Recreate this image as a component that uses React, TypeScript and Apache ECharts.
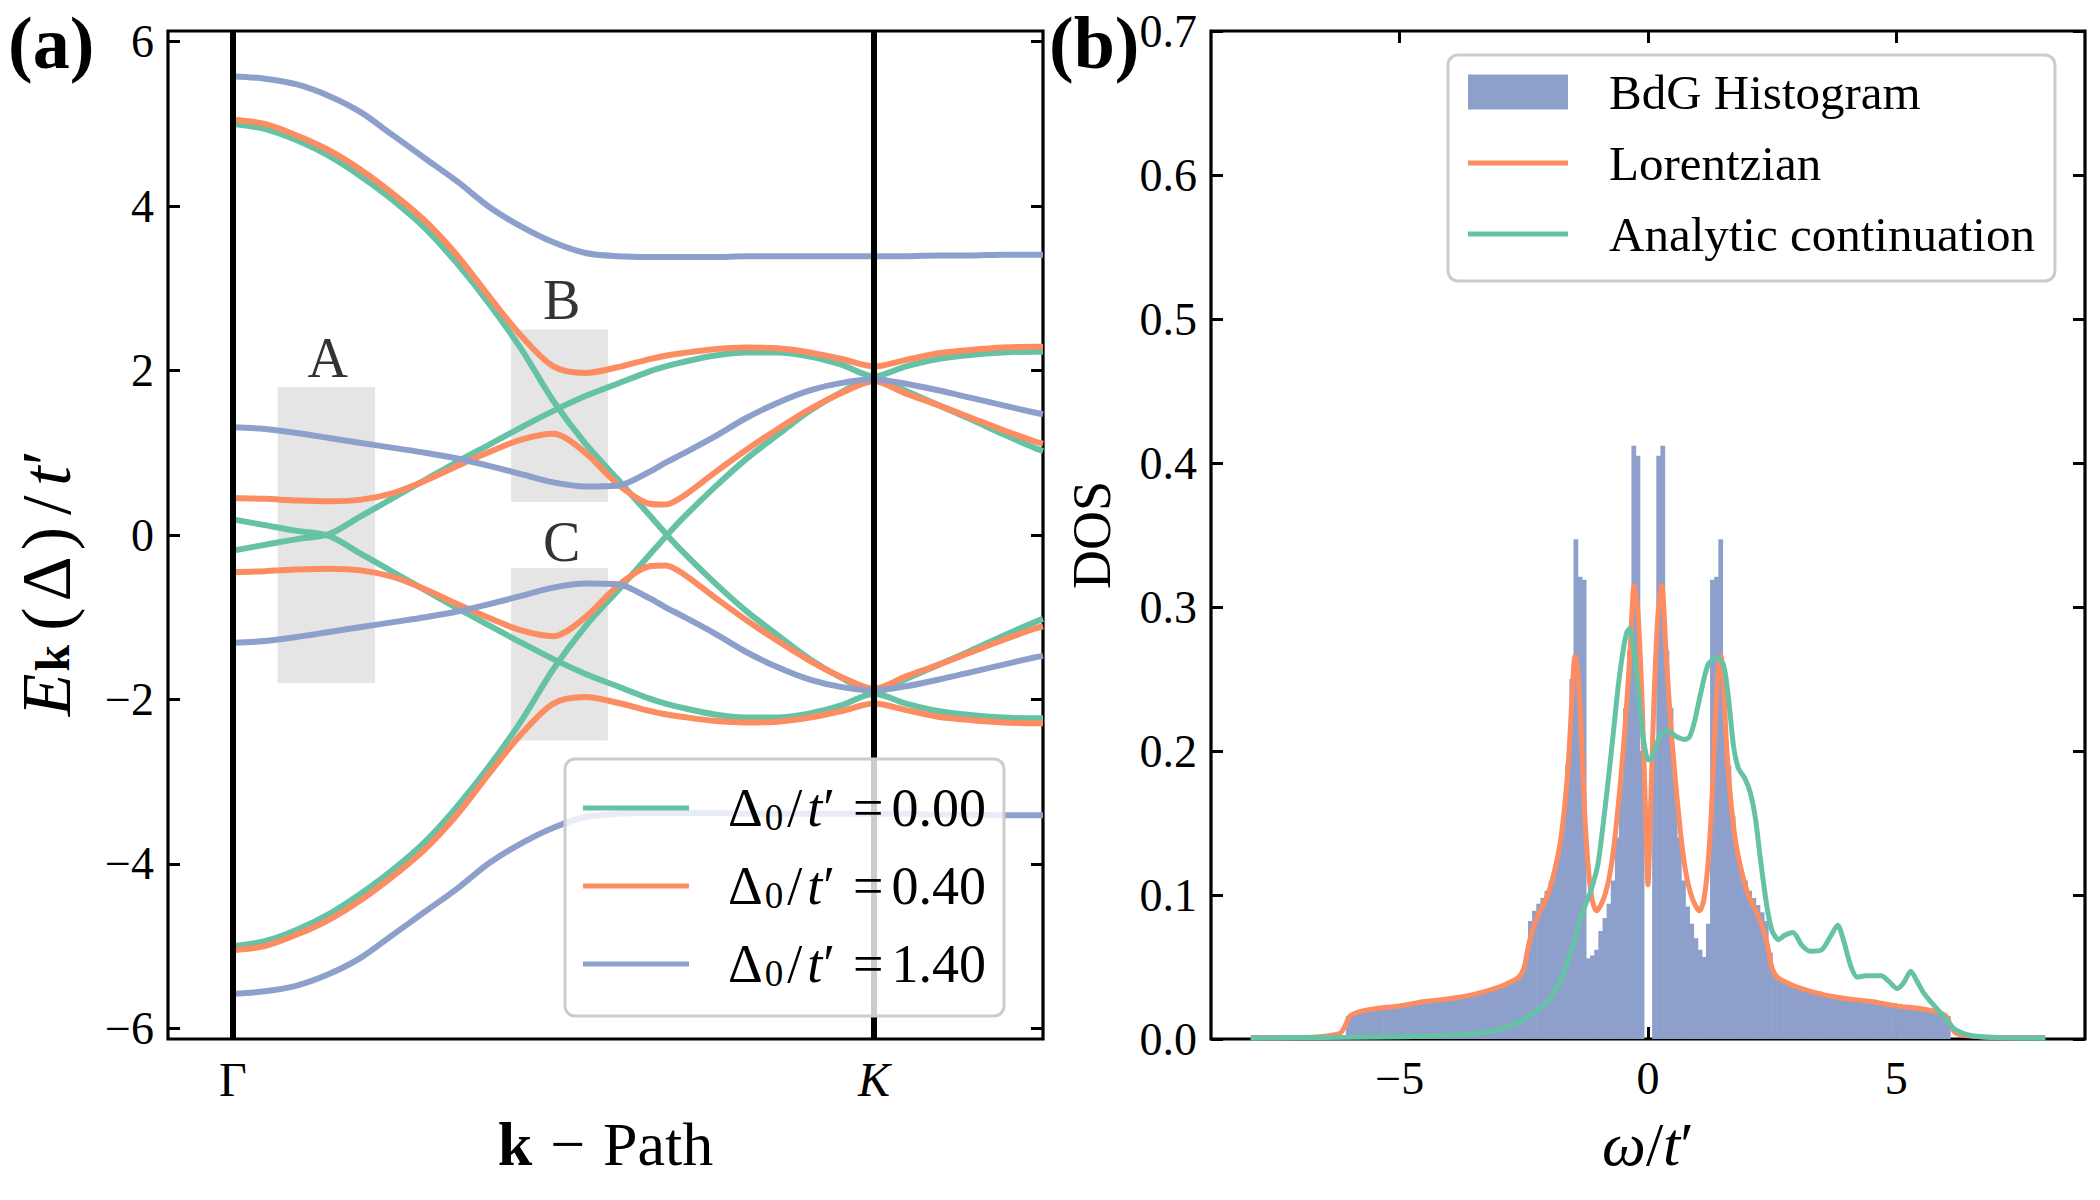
import React, { useEffect, useRef } from "react";
import * as echarts from "echarts";

const FONT = "'Liberation Serif', 'Times New Roman', Times, serif";
const GREEN = "#66c2a5";
const ORANGE = "#fc8d62";
const BLUE = "#8da0cb";

// ---------------- Panel (a): bands along the k-path (Γ = 0, K = 1) ----------------
const K_PATH = [0, 0.05, 0.1, 0.15, 0.2, 0.25, 0.3, 0.35, 0.4, 0.45, 0.5, 0.55, 0.6, 0.65, 0.675, 0.7, 0.75, 0.8, 0.85, 0.9, 0.95, 1.0, 1.05, 1.1, 1.15, 1.2, 1.25, 1.2635];
const K_TICKS = [0, 1];
const K_TICK_LABELS = ["Γ", "K"];
const E_TICKS = [-6, -4, -2, 0, 2, 4, 6];

// Δ0/t' = 0.00
const G_BAND1 = [5.0, 4.94, 4.8, 4.61, 4.36, 4.07, 3.73, 3.3, 2.81, 2.26, 1.63, 1.11, 0.68, 0.24, 0.02, -0.19, -0.57, -0.92, -1.22, -1.51, -1.74, -1.92, -1.75, -1.58, -1.41, -1.23, -1.06, -1.02];
const G_BAND2 = [0.19, 0.12, 0.05, -0.01, -0.23, -0.45, -0.67, -0.89, -1.1, -1.31, -1.51, -1.69, -1.84, -1.99, -2.05, -2.1, -2.18, -2.22, -2.22, -2.17, -2.07, -1.93, -2.05, -2.14, -2.19, -2.22, -2.23, -2.23];
const G_BAND3 = [-0.19, -0.12, -0.05, 0.01, 0.23, 0.45, 0.67, 0.89, 1.1, 1.31, 1.51, 1.69, 1.84, 1.99, 2.05, 2.1, 2.18, 2.22, 2.22, 2.17, 2.07, 1.93, 2.05, 2.14, 2.19, 2.22, 2.23, 2.23];
const G_BAND4 = [-5.0, -4.94, -4.8, -4.61, -4.36, -4.07, -3.73, -3.3, -2.81, -2.26, -1.63, -1.11, -0.68, -0.24, -0.02, 0.19, 0.57, 0.92, 1.22, 1.51, 1.74, 1.92, 1.75, 1.58, 1.41, 1.23, 1.06, 1.02];
// Δ0/t' = 0.40
const O_BAND1 = [5.05, 5.0, 4.86, 4.68, 4.44, 4.15, 3.82, 3.4, 2.9, 2.42, 2.05, 1.97, 2.04, 2.14, 2.18, 2.21, 2.26, 2.28, 2.27, 2.22, 2.14, 2.05, 2.13, 2.21, 2.25, 2.28, 2.29, 2.29];
const O_BAND2 = [0.45, 0.44, 0.42, 0.41, 0.43, 0.51, 0.66, 0.84, 1.01, 1.16, 1.23, 1.0, 0.62, 0.38, 0.37, 0.46, 0.75, 1.03, 1.29, 1.53, 1.73, 1.87, 1.72, 1.58, 1.43, 1.28, 1.14, 1.11];
const O_BAND3 = [-0.45, -0.44, -0.42, -0.41, -0.43, -0.51, -0.66, -0.84, -1.01, -1.16, -1.23, -1.0, -0.62, -0.38, -0.37, -0.46, -0.75, -1.03, -1.29, -1.53, -1.73, -1.87, -1.72, -1.58, -1.43, -1.28, -1.14, -1.11];
const O_BAND4 = [-5.05, -5.0, -4.86, -4.68, -4.44, -4.15, -3.82, -3.4, -2.9, -2.42, -2.05, -1.97, -2.04, -2.14, -2.18, -2.21, -2.26, -2.28, -2.27, -2.22, -2.14, -2.05, -2.13, -2.21, -2.25, -2.28, -2.29, -2.29];
// Δ0/t' = 1.40
const B_BAND1 = [5.58, 5.55, 5.48, 5.34, 5.14, 4.86, 4.58, 4.3, 3.99, 3.75, 3.56, 3.43, 3.39, 3.38, 3.38, 3.38, 3.38, 3.39, 3.39, 3.39, 3.39, 3.39, 3.39, 3.4, 3.4, 3.41, 3.41, 3.41];
const B_BAND2 = [1.31, 1.29, 1.24, 1.18, 1.12, 1.06, 1.0, 0.93, 0.84, 0.74, 0.64, 0.59, 0.6, 0.77, 0.88, 0.98, 1.19, 1.42, 1.61, 1.76, 1.85, 1.89, 1.84, 1.76, 1.67, 1.58, 1.49, 1.47];
const B_BAND3 = [-1.31, -1.29, -1.24, -1.18, -1.12, -1.06, -1.0, -0.93, -0.84, -0.74, -0.64, -0.59, -0.6, -0.77, -0.88, -0.98, -1.19, -1.42, -1.61, -1.76, -1.85, -1.89, -1.84, -1.76, -1.67, -1.58, -1.49, -1.47];
const B_BAND4 = [-5.58, -5.55, -5.48, -5.34, -5.14, -4.86, -4.58, -4.3, -3.99, -3.75, -3.56, -3.43, -3.39, -3.38, -3.38, -3.38, -3.38, -3.39, -3.39, -3.39, -3.39, -3.39, -3.39, -3.4, -3.4, -3.41, -3.41, -3.41];

const DELTA_NAMES = ["Δ0/t′ = 0.00", "Δ0/t′ = 0.40", "Δ0/t′ = 1.40"];
const DELTA_TEXT = ["0.00", "0.40", "1.40"];

// shaded regions A, B, C
const BOX_LABELS = ["A", "B", "C"];
const BOX_X0 = [0.07, 0.434, 0.434];
const BOX_X1 = [0.222, 0.585, 0.585];
const BOX_Y0 = [-1.8, 0.4, -2.5];
const BOX_Y1 = [1.8, 2.5, -0.4];
const BOX_LABEL_X = [0.148, 0.513, 0.513];
const BOX_LABEL_Y = [2.15, 2.86, -0.08];

// ---------------- Panel (b): density of states ----------------
const W_TICKS = [-5, 0, 5];
const HIST_BIN = 1 / 12;
// bins going right from ω = 0
const HIST_POS = [0, 0.2, 0.405, 0.412, 0.27, 0.23, 0.18, 0.14, 0.11, 0.092, 0.08, 0.07, 0.062, 0.057, 0.08, 0.319, 0.321, 0.347, 0.25, 0.19, 0.155, 0.13, 0.118, 0.11, 0.103, 0.098, 0.093, 0.088, 0.082, 0.06, 0.046, 0.043, 0.041, 0.04, 0.038, 0.037, 0.036, 0.036, 0.034, 0.033, 0.032, 0.033, 0.031, 0.03, 0.031, 0.029, 0.029, 0.028, 0.029, 0.027, 0.027, 0.028, 0.026, 0.025, 0.026, 0.024, 0.025, 0.024, 0.023, 0.025, 0.022, 0.022, 0.023, 0.021, 0.021, 0.02, 0.02, 0.019, 0.019, 0.018, 0.018, 0.017, 0.016];
// bins going left from ω = 0
const HIST_NEG = [0, 0.2, 0.405, 0.412, 0.27, 0.23, 0.18, 0.14, 0.11, 0.094, 0.084, 0.075, 0.062, 0.058, 0.056, 0.319, 0.321, 0.347, 0.25, 0.19, 0.155, 0.13, 0.118, 0.11, 0.103, 0.098, 0.094, 0.089, 0.082, 0.058, 0.046, 0.043, 0.041, 0.039, 0.038, 0.037, 0.036, 0.035, 0.034, 0.034, 0.032, 0.032, 0.031, 0.031, 0.03, 0.029, 0.03, 0.028, 0.028, 0.027, 0.028, 0.026, 0.026, 0.025, 0.026, 0.024, 0.024, 0.025, 0.023, 0.023, 0.022, 0.023, 0.021, 0.021, 0.021, 0.02, 0.02, 0.019, 0.019, 0.018, 0.018, 0.017, 0.016];

const LOR_W = [-8, -7, -6.5, -6.2, -6.1, -6.0, -5.8, -5.5, -5.0, -4.5, -4.0, -3.5, -3.0, -2.8, -2.6, -2.5, -2.45, -2.4, -2.3, -2.2, -2.1, -2.0, -1.88, -1.76, -1.66, -1.58, -1.52, -1.47, -1.42, -1.36, -1.28, -1.2, -1.12, -1.04, -0.95, -0.85, -0.75, -0.65, -0.55, -0.45, -0.36, -0.28, -0.2, -0.12, -0.06, 0, 0.06, 0.12, 0.2, 0.28, 0.36, 0.45, 0.55, 0.65, 0.75, 0.85, 0.95, 1.04, 1.12, 1.2, 1.28, 1.36, 1.42, 1.47, 1.52, 1.58, 1.66, 1.76, 1.88, 2.0, 2.1, 2.2, 2.3, 2.4, 2.45, 2.5, 2.6, 2.8, 3.0, 3.5, 4.0, 4.5, 5.0, 5.5, 5.8, 6.0, 6.1, 6.2, 6.5, 7, 8];
const LOR_DOS = [0.001, 0.001, 0.002, 0.004, 0.009, 0.016, 0.019, 0.021, 0.023, 0.026, 0.028, 0.031, 0.036, 0.039, 0.043, 0.049, 0.057, 0.066, 0.078, 0.087, 0.094, 0.102, 0.117, 0.138, 0.168, 0.205, 0.245, 0.266, 0.258, 0.225, 0.16, 0.118, 0.096, 0.089, 0.093, 0.102, 0.118, 0.145, 0.18, 0.222, 0.27, 0.315, 0.295, 0.235, 0.17, 0.107, 0.17, 0.235, 0.295, 0.315, 0.27, 0.222, 0.18, 0.145, 0.118, 0.102, 0.093, 0.089, 0.096, 0.118, 0.16, 0.225, 0.258, 0.266, 0.245, 0.205, 0.168, 0.138, 0.117, 0.102, 0.094, 0.087, 0.078, 0.066, 0.057, 0.049, 0.043, 0.039, 0.036, 0.031, 0.028, 0.026, 0.023, 0.021, 0.019, 0.016, 0.009, 0.004, 0.002, 0.001, 0.001];

const AC_W = [-8.0, -7.0, -6.0, -5.0, -4.4, -3.6, -3.0, -2.6, -2.3, -2.0, -1.8, -1.65, -1.5, -1.38, -1.25, -1.15, -1.01, -0.9, -0.8, -0.7, -0.6, -0.5, -0.43, -0.37, -0.3, -0.2, -0.1, 0.0, 0.05, 0.13, 0.27, 0.4, 0.57, 0.74, 0.84, 0.94, 1.08, 1.21, 1.38, 1.52, 1.62, 1.72, 1.82, 1.95, 2.06, 2.16, 2.26, 2.39, 2.5, 2.63, 2.75, 2.92, 3.1, 3.27, 3.5, 3.67, 3.82, 3.95, 4.08, 4.21, 4.4, 4.55, 4.7, 4.85, 5.02, 5.15, 5.29, 5.42, 5.55, 5.74, 5.97, 6.19, 6.53, 7.1, 8.0];
const AC_DOS = [0.0007, 0.001, 0.0012, 0.0015, 0.002, 0.0035, 0.0065, 0.012, 0.018, 0.027, 0.038, 0.051, 0.066, 0.082, 0.094, 0.103, 0.121, 0.15, 0.18, 0.212, 0.245, 0.27, 0.282, 0.285, 0.275, 0.243, 0.21, 0.194, 0.194, 0.201, 0.212, 0.214, 0.21, 0.208, 0.21, 0.221, 0.243, 0.26, 0.265, 0.26, 0.237, 0.204, 0.188, 0.181, 0.171, 0.154, 0.126, 0.093, 0.075, 0.069, 0.072, 0.074, 0.065, 0.061, 0.062, 0.071, 0.079, 0.067, 0.051, 0.043, 0.044, 0.044, 0.044, 0.04, 0.035, 0.039, 0.047, 0.04, 0.032, 0.024, 0.015, 0.0065, 0.0023, 0.001, 0.0007];

const minusSign = (v: number) => (v < 0 ? "−" + String(Math.abs(v)) : String(v));

function buildOption() {
  const tick = { show: true, inside: true, length: 12, lineStyle: { color: "#000", width: 3 } };
  const noLine = { show: false, onZero: false };
  const lbl = { color: "#000", fontFamily: FONT, fontSize: 46 };
  const txt = (extra: any = {}) => ({ color: "#000", fontFamily: FONT, fontSize: 58, ...extra });
  const LINE_ICON_A = "path://M0,0H106V5H0Z";
  const LINE_ICON_B = "path://M0,0H100V5H0Z";

  const bandGroups = [
    { name: DELTA_NAMES[0], color: GREEN, lines: [G_BAND1, G_BAND2, G_BAND3, G_BAND4] },
    { name: DELTA_NAMES[1], color: ORANGE, lines: [O_BAND1, O_BAND2, O_BAND3, O_BAND4] },
    { name: DELTA_NAMES[2], color: BLUE, lines: [B_BAND1, B_BAND2, B_BAND3, B_BAND4] },
  ];

  const series: any[] = [];

  series.push({
    type: "custom",
    xAxisIndex: 0,
    yAxisIndex: 0,
    z: 1,
    silent: true,
    data: BOX_X0.map((x0, i) => [x0, BOX_X1[i], BOX_Y0[i], BOX_Y1[i]]),
    encode: { x: [0, 1], y: [2, 3] },
    renderItem: (_p: any, api: any) => {
      const a = api.coord([api.value(0), api.value(3)]);
      const b = api.coord([api.value(1), api.value(2)]);
      return { type: "rect", shape: { x: a[0], y: a[1], width: b[0] - a[0], height: b[1] - a[1] }, style: { fill: "#e5e5e5" } };
    },
  });

  bandGroups.forEach((g, gi) => {
    g.lines.forEach((arr) => {
      series.push({
        type: "line",
        name: g.name,
        xAxisIndex: 0,
        yAxisIndex: 0,
        z: 2 + gi * 0.01,
        symbol: "none",
        smooth: 0.3,
        data: K_PATH.map((k, i) => [k, arr[i]]),
        lineStyle: { color: g.color, width: 6 },
        itemStyle: { color: g.color },
      });
    });
  });

  series.push({
    type: "line",
    xAxisIndex: 0,
    yAxisIndex: 0,
    z: 3,
    data: [],
    symbol: "none",
    markLine: {
      silent: true,
      symbol: ["none", "none"],
      label: { show: false },
      lineStyle: { color: "#000", width: 6, type: "solid" },
      data: K_TICKS.map((k) => ({ xAxis: k })),
    },
  });

  series.push({
    type: "scatter",
    xAxisIndex: 0,
    yAxisIndex: 0,
    z: 3,
    symbolSize: 1,
    itemStyle: { color: "rgba(0,0,0,0)" },
    data: BOX_LABELS.map((n, i) => ({ name: n, value: [BOX_LABEL_X[i], BOX_LABEL_Y[i]] })),
    label: { show: true, position: "inside", formatter: "{b}", color: "#000", fontFamily: FONT, fontSize: 56 },
  });

  const histData = [
    ...HIST_NEG.map((v, k) => [-(k + 1) * HIST_BIN, -k * HIST_BIN, v]),
    ...HIST_POS.map((v, k) => [k * HIST_BIN, (k + 1) * HIST_BIN, v]),
  ];
  series.push({
    type: "custom",
    name: "BdG Histogram",
    xAxisIndex: 1,
    yAxisIndex: 2,
    z: 2,
    itemStyle: { color: BLUE },
    data: histData,
    encode: { x: [0, 1], y: 2 },
    renderItem: (_p: any, api: any) => {
      const a = api.coord([api.value(0), api.value(2)]);
      const b = api.coord([api.value(1), 0]);
      return { type: "rect", shape: { x: a[0], y: a[1], width: b[0] - a[0] + 0.6, height: b[1] - a[1] }, style: { fill: BLUE } };
    },
  });

  series.push({
    type: "line",
    name: "Lorentzian",
    xAxisIndex: 1,
    yAxisIndex: 2,
    z: 3,
    symbol: "none",
    smooth: 0.25,
    data: LOR_W.map((w, i) => [w, LOR_DOS[i]]),
    lineStyle: { color: ORANGE, width: 5 },
    itemStyle: { color: ORANGE },
  });

  series.push({
    type: "line",
    name: "Analytic continuation",
    xAxisIndex: 1,
    yAxisIndex: 2,
    z: 4,
    symbol: "none",
    smooth: 0.25,
    data: AC_W.map((w, i) => [w, AC_DOS[i]]),
    lineStyle: { color: GREEN, width: 5 },
    itemStyle: { color: GREEN },
  });

  const legendRichA = {
    n: { fontFamily: FONT, fontSize: 54, color: "#000", lineHeight: 56 },
    i: { fontFamily: FONT, fontSize: 54, color: "#000", fontStyle: "italic", lineHeight: 56, padding: [0, 1, 0, 3] },
    sl: { fontFamily: FONT, fontSize: 54, color: "#000", lineHeight: 56, padding: [0, 2, 0, 4] },
    eq: { fontFamily: FONT, fontSize: 54, color: "#000", lineHeight: 56, padding: [0, 8, 0, 18] },
    s: { fontFamily: FONT, fontSize: 37, color: "#000", lineHeight: 30, verticalAlign: "bottom", padding: [0, 0, 0, 2] },
  };

  const yName = (extra: any = {}) => txt({ fontSize: 70, lineHeight: 60, ...extra });

  return {
    animation: false,
    backgroundColor: "#ffffff",
    grid: [
      { left: 168, top: 31, width: 875, height: 1008, outerBoundsMode: "none", containLabel: false, show: true, borderColor: "#000", borderWidth: 3.2, backgroundColor: "transparent" },
      { left: 1211, top: 31, width: 874, height: 1008, outerBoundsMode: "none", containLabel: false, show: true, borderColor: "#000", borderWidth: 3.2, backgroundColor: "transparent" },
    ],
    xAxis: [
      {
        gridIndex: 0,
        type: "value",
        min: -0.101,
        max: 1.2635,
        axisLine: noLine,
        axisTick: { show: false },
        splitLine: { show: false },
        axisLabel: {
          ...lbl,
          margin: 16,
          customValues: K_TICKS,
          formatter: (v: number) => (v === 0 ? "{g|" + K_TICK_LABELS[0] + "}" : "{k|" + K_TICK_LABELS[1] + "}"),
          rich: {
            g: { ...lbl, fontSize: 48 },
            k: { ...lbl, fontSize: 48, fontStyle: "italic" },
          },
        },
        name: "{b|k}{m|−}{n|Path}",
        nameLocation: "middle",
        nameGap: 74,
        nameTextStyle: txt({
          fontSize: 62,
          rich: {
            b: txt({ fontSize: 62, fontWeight: "bold" }),
            m: txt({ fontSize: 62, padding: [0, 18, 0, 18] }),
            n: txt({ fontSize: 62 }),
          },
        }),
      },
      {
        gridIndex: 1,
        type: "value",
        min: -8.8,
        max: 8.8,
        axisLine: noLine,
        splitLine: { show: false },
        axisTick: { ...tick, customValues: W_TICKS },
        axisLabel: { ...lbl, margin: 16, customValues: W_TICKS, formatter: (v: number) => minusSign(v) },
        name: "{i|ω}{n|/}{i|t}{n|′}",
        nameLocation: "middle",
        nameGap: 74,
        nameTextStyle: txt({ fontSize: 62, rich: { i: txt({ fontStyle: "italic", fontSize: 62 }), n: txt({ fontSize: 62 }) } }),
      },
      {
        gridIndex: 1,
        type: "value",
        position: "top",
        min: -8.8,
        max: 8.8,
        axisLine: noLine,
        splitLine: { show: false },
        axisTick: { ...tick, customValues: W_TICKS },
        axisLabel: { show: false },
      },
    ],
    yAxis: [
      {
        gridIndex: 0,
        type: "value",
        min: -6.13,
        max: 6.13,
        axisLine: noLine,
        splitLine: { show: false },
        axisTick: { ...tick, customValues: E_TICKS },
        axisLabel: { ...lbl, margin: 14, customValues: E_TICKS, formatter: (v: number) => minusSign(v) },
        name: "{i|E}{s|k}{p|(}{d|Δ}{p|)}{sl|/}{t|t}{n|′}",
        nameLocation: "middle",
        nameGap: 92,
        nameRotate: 90,
        nameTextStyle: yName({
          padding: [0, 96, 0, 0],
          rich: {
            i: yName({ fontStyle: "italic", padding: [0, 1, 0, 0] }),
            n: yName(),
            p: yName({ padding: [0, 3, 0, 3] }),
            d: yName({ padding: [0, 3, 0, 3] }),
            sl: yName({ padding: [0, 8, 0, 9] }),
            t: yName({ fontStyle: "italic", padding: [0, 1, 0, 2] }),
            s: txt({ fontWeight: "bold", fontSize: 48, lineHeight: 40, verticalAlign: "bottom", padding: [0, 11, 0, 1] }),
          },
        }),
      },
      {
        gridIndex: 0,
        type: "value",
        position: "right",
        min: -6.13,
        max: 6.13,
        axisLine: noLine,
        splitLine: { show: false },
        axisTick: { ...tick, customValues: E_TICKS },
        axisLabel: { show: false },
      },
      {
        gridIndex: 1,
        type: "value",
        min: 0,
        max: 0.7,
        interval: 0.1,
        axisLine: noLine,
        splitLine: { show: false },
        axisTick: tick,
        axisLabel: { ...lbl, margin: 14, formatter: (v: number) => v.toFixed(1) },
        name: "DOS",
        nameLocation: "middle",
        nameGap: 92,
        nameRotate: 90,
        nameTextStyle: txt({ fontSize: 54 }),
      },
      {
        gridIndex: 1,
        type: "value",
        position: "right",
        min: 0,
        max: 0.7,
        interval: 0.1,
        axisLine: noLine,
        splitLine: { show: false },
        axisTick: tick,
        axisLabel: { show: false },
      },
    ],
    legend: [
      {
        left: 565,
        top: 759,
        orient: "vertical",
        z: 10,
        itemWidth: 106,
        itemHeight: 56,
        itemGap: 23,
        padding: [22, 18, 24, 18],
        backgroundColor: "rgba(255,255,255,0.8)",
        borderColor: "#cccccc",
        borderWidth: 3,
        borderRadius: 10,
        selectedMode: false,
        data: DELTA_NAMES.map((n) => ({ name: n, icon: LINE_ICON_A })),
        formatter: (name: string) => {
          const idx = DELTA_NAMES.indexOf(name);
          return "{n|Δ}{s|0}{sl|/}{i|t}{n|′}{eq|=}{n|" + DELTA_TEXT[idx] + "}";
        },
        textStyle: { fontFamily: FONT, fontSize: 54, color: "#000", padding: [0, 0, 0, 34], rich: legendRichA },
      },
      {
        left: 1448,
        top: 55,
        orient: "vertical",
        z: 10,
        itemWidth: 100,
        itemHeight: 35,
        itemGap: 17,
        padding: [10, 20, 20, 20],
        backgroundColor: "rgba(255,255,255,0.8)",
        borderColor: "#cccccc",
        borderWidth: 3,
        borderRadius: 10,
        selectedMode: false,
        data: [
          { name: "BdG Histogram", icon: "rect" },
          { name: "Lorentzian", icon: LINE_ICON_B },
          { name: "Analytic continuation", icon: LINE_ICON_B },
        ],
        textStyle: { fontFamily: FONT, fontSize: 49, color: "#000", lineHeight: 54, padding: [0, 0, 0, 36] },
      },
    ],
    graphic: [
      { type: "text", x: 8, y: 6, z: 20, style: { text: "(a)", fontFamily: FONT, fontSize: 74, fontWeight: "bold", fill: "#000" } },
      { type: "text", x: 1049, y: 6, z: 20, style: { text: "(b)", fontFamily: FONT, fontSize: 74, fontWeight: "bold", fill: "#000" } },
    ],
    series,
  };
}

export default function App() {
  const ref = useRef<HTMLDivElement>(null);
  useEffect(() => {
    if (!ref.current) return;
    const chart = echarts.init(ref.current, null, { renderer: "svg" });
    chart.setOption(buildOption() as any);
    return () => chart.dispose();
  }, []);
  return (
    <div
      ref={ref}
      style={{ position: "fixed", left: 0, top: 0, width: 2100, height: 1200, background: "#ffffff" }}
    />
  );
}
